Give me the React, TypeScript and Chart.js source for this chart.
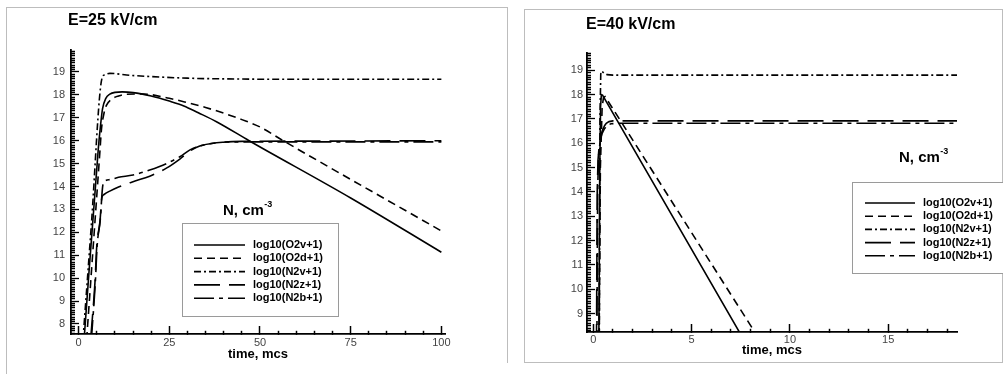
import React, { useEffect, useRef } from 'react';
import { Chart, registerables } from 'chart.js';

Chart.register(...registerables);

// ---------- styles ----------
const FONT = '"Liberation Sans", Arial, Helvetica, sans-serif';
const DASHES = [[], [8, 5], [7, 3, 2, 3], [26, 9], [20, 5, 4, 5]];

// ---------- data ----------
const SERIES_LABELS = ['log10(O2v+1)', 'log10(O2d+1)', 'log10(N2v+1)', 'log10(N2z+1)', 'log10(N2b+1)'];
const X_LABEL = 'time, mcs';
const N_LABEL = 'N, cm';
const N_SUP = '-3';

// Left panel: E = 25 kV/cm
const L_TITLE = 'E=25 kV/cm';
const L_X_TICKS = [0, 25, 50, 75, 100];
const L_Y_TICKS = [8, 9, 10, 11, 12, 13, 14, 15, 16, 17, 18, 19];
const L_O2V_T = [1.5, 5.4, 6.0, 6.6, 7.5, 8.6, 10, 12, 15, 20, 25, 29, 33, 38, 47, 75, 100];
const L_O2V_N = [7.3, 15.6, 16.6, 17.4, 17.85, 18.03, 18.11, 18.13, 18.1, 17.95, 17.73, 17.52, 17.22, 16.83, 16.0, 13.5, 11.13];
const L_O2D_T = [2.2, 5.9, 6.3, 7.0, 7.7, 9.5, 11, 13.2, 17.8, 25, 30, 35, 40, 45, 50, 56.4, 100];
const L_O2D_N = [7.3, 15.6, 16.5, 17.2, 17.55, 17.85, 17.95, 18.03, 18.04, 17.85, 17.66, 17.45, 17.2, 16.92, 16.6, 16.0, 12.06];
const L_N2V_T = [1.2, 3.5, 6.4, 7.2, 8.6, 10, 13.2, 20, 30, 40, 60, 100];
const L_N2V_N = [7.3, 12.3, 18.7, 18.88, 18.94, 18.93, 18.87, 18.8, 18.73, 18.7, 18.68, 18.68];
const L_N2Z_T = [3.3, 4.5, 5.0, 5.9, 6.4, 7.0, 8.6, 11, 15, 19.6, 24.2, 27.9, 30.7, 33.4, 38, 45, 60, 100];
const L_N2Z_N = [7.3, 9.8, 11.4, 12.5, 13.5, 13.65, 13.8, 13.98, 14.21, 14.45, 14.8, 15.2, 15.55, 15.77, 15.91, 15.97, 15.98, 16.0];
const L_N2B_T = [3.5, 4.6, 5.1, 6.0, 6.5, 6.8, 8.6, 11, 15, 19.6, 24.2, 27.9, 30.7, 33.4, 38, 45, 60, 100];
const L_N2B_N = [7.3, 9.8, 11.4, 12.6, 13.8, 14.15, 14.3, 14.4, 14.5, 14.72, 15.0, 15.3, 15.6, 15.77, 15.91, 15.95, 15.95, 15.95];

// Right panel: E = 40 kV/cm
const R_TITLE = 'E=40 kV/cm';
const R_X_TICKS = [0, 5, 10, 15];
const R_Y_TICKS = [9, 10, 11, 12, 13, 14, 15, 16, 17, 18, 19];
const R_O2V_T = [0.28, 0.33, 0.37, 0.41, 0.47, 7.6];
const R_O2V_N = [7.5, 15.0, 17.5, 18.0, 17.98, 8.0];
const R_O2D_T = [0.3, 0.36, 0.45, 0.52, 0.6, 8.4];
const R_O2D_N = [7.5, 15.0, 17.5, 17.88, 17.92, 8.0];
const R_N2V_T = [0.3, 0.34, 0.38, 0.42, 0.55, 0.7, 1.0, 18.5];
const R_N2V_N = [7.5, 17.0, 18.85, 18.97, 18.88, 18.82, 18.8, 18.8];
const R_N2Z_T = [0.16, 0.2, 0.24, 0.32, 0.4, 0.49, 0.58, 0.66, 0.8, 1.0, 18.5];
const R_N2Z_N = [7.5, 14.0, 15.3, 16.1, 16.38, 16.58, 16.73, 16.82, 16.89, 16.92, 16.92];
const R_N2B_T = [0.18, 0.22, 0.27, 0.36, 0.45, 0.55, 0.65, 0.75, 0.9, 1.2, 18.5];
const R_N2B_N = [7.5, 14.0, 15.5, 16.15, 16.4, 16.57, 16.68, 16.75, 16.8, 16.82, 16.82];

const zip = (t: number[], n: number[]) => t.map((v, i) => ({ x: v, y: n[i] }));
const near = (v: number, list: number[]) => list.some((t) => Math.abs(t - v) < 1e-6);

function tickValues(min: number, max: number, perUnit: number) {
  const out: { value: number }[] = [];
  const a = Math.ceil(min * perUnit - 1e-9);
  const b = Math.floor(max * perUnit + 1e-9);
  for (let k = a; k <= b; k++) out.push({ value: k / perUnit });
  return out;
}

function makeDecor(s: any) {
  const o = s.decor;
  return {
    id: 'decor',
    afterDraw(chart: any) {
      const ctx = chart.ctx;
      ctx.save();
      ctx.fillStyle = '#000';
      ctx.textBaseline = 'middle';
      ctx.textAlign = 'left';
      ctx.font = `bold 16px ${FONT}`;
      ctx.fillText(o.title, o.titleX, o.titleY);

      ctx.font = `bold 15px ${FONT}`;
      ctx.fillText(N_LABEL, o.nX, o.nY);
      const w = ctx.measureText(N_LABEL).width;
      ctx.font = `bold 9px ${FONT}`;
      ctx.fillText(N_SUP, o.nX + w + 0.5, o.nY - 6);

      const lb = o.legend;
      ctx.fillStyle = '#fff';
      ctx.fillRect(lb.x, lb.y, lb.w, lb.h);
      ctx.strokeStyle = '#9a9a9a';
      ctx.lineWidth = 1;
      ctx.setLineDash([]);
      ctx.strokeRect(lb.x + 0.5, lb.y + 0.5, lb.w, lb.h);
      ctx.font = `bold 11px ${FONT}`;
      ctx.fillStyle = '#000';
      chart.data.datasets.forEach((ds: any, i: number) => {
        const ry = lb.row0 + i * lb.rowGap;
        ctx.strokeStyle = '#000';
        ctx.lineWidth = ds.borderWidth;
        ctx.setLineDash(ds.borderDash || []);
        ctx.beginPath();
        ctx.moveTo(lb.sx0, ry);
        ctx.lineTo(lb.sx1, ry);
        ctx.stroke();
        ctx.setLineDash([]);
        ctx.fillText(ds.label, lb.tx, ry);
      });
      ctx.restore();
    },
  };
}

function Panel({ spec }: { spec: any }) {
  const ref = useRef<HTMLCanvasElement>(null);
  useEffect(() => {
    const s = spec;
    const chart = new Chart(ref.current as HTMLCanvasElement, {
      type: 'line',
      data: {
        datasets: s.series.map(([t, n]: number[][], i: number) => ({
          label: SERIES_LABELS[i],
          data: zip(t, n),
          borderColor: '#000',
          backgroundColor: '#000',
          borderWidth: 1.6,
          borderDash: DASHES[i],
          pointRadius: 0,
          fill: false,
          tension: 0,
          cubicInterpolationMode: s.smooth ? 'monotone' : 'default',
        })),
      },
      options: {
        responsive: false,
        animation: false,
        devicePixelRatio: 1,
        layout: { padding: { left: 0, right: s.padRight, top: s.padTop, bottom: 0 } },
        plugins: {
          legend: { display: false },
          tooltip: { enabled: false },
          title: { display: false },
        },
        scales: {
          x: {
            type: 'linear',
            min: s.xMin,
            max: s.xMax,
            grid: {
              display: true,
              drawOnChartArea: false,
              drawTicks: true,
              tickLength: -8,
              tickColor: '#000',
              tickWidth: 1.5,
              tickBorderDash: (c: any) => (c.tick && near(c.tick.value, s.xTicks) ? [] : [4, 100]),
            },
            border: { display: true, color: '#000', width: 1.8 },
            afterBuildTicks: (sc: any) => { sc.ticks = tickValues(s.xMin, s.xMax, s.xPerUnit); },
            afterFit: (sc: any) => { sc.height = s.xHeight; },
            ticks: {
              font: { family: FONT, size: 11 },
              color: '#444',
              padding: s.xTickPad,
              maxRotation: 0,
              autoSkip: false,
              callback: (v: number) => (near(v, s.xTicks) ? String(Math.round(v)) : ''),
            },
            title: { display: true, text: X_LABEL, color: '#000', font: { family: FONT, size: 13, weight: 'bold' }, padding: { top: 0, bottom: s.xTitlePad } },
          },
          y: {
            type: 'linear',
            min: s.yMin,
            max: s.yMax,
            grid: {
              display: true,
              drawOnChartArea: false,
              drawTicks: true,
              tickLength: -8,
              tickColor: '#000',
              tickWidth: 1.3,
              tickBorderDash: (c: any) => (c.tick && near(c.tick.value, s.yTicks) ? [] : [0, 4, 4, 100]),
            },
            border: { display: true, color: '#000', width: 1.8 },
            afterBuildTicks: (sc: any) => { sc.ticks = tickValues(s.yMin, s.yMax, s.yPerUnit); },
            afterFit: (sc: any) => { sc.width = s.yWidth; },
            ticks: {
              font: { family: FONT, size: 11 },
              color: '#444',
              padding: s.yTickPad,
              autoSkip: false,
              callback: (v: number) => (near(v, s.yTicks) ? String(Math.round(v)) : ''),
            },
          },
        },
      } as any,
      plugins: [makeDecor(s)],
    });
    return () => chart.destroy();
  }, []);
  return (
    <canvas
      ref={ref}
      width={spec.width}
      height={374}
      style={{ position: 'absolute', left: spec.left, top: 0, width: spec.width, height: 374 }}
    />
  );
}

const LEFT = {
  left: 0,
  width: 512,
  smooth: true,
  series: [[L_O2V_T, L_O2V_N], [L_O2D_T, L_O2D_N], [L_N2V_T, L_N2V_N], [L_N2Z_T, L_N2Z_N], [L_N2B_T, L_N2B_N]],
  xMin: -2.1, xMax: 101, yMin: 7.56, yMax: 19.96,
  xTicks: L_X_TICKS, yTicks: L_Y_TICKS,
  xPerUnit: 0.2, yPerUnit: 10,
  padRight: 67, padTop: 50,
  yWidth: 71, xHeight: 40,
  xTickPad: 10, yTickPad: 14, xTitlePad: 12,
  decor: {
    title: L_TITLE, titleX: 68, titleY: 21,
    nX: 223, nY: 211,
    legend: { x: 182, y: 223, w: 156, h: 93, row0: 245, rowGap: 13.3, sx0: 194, sx1: 245, tx: 253 },
  },
};

const RIGHT = {
  left: 512,
  width: 491,
  smooth: false,
  series: [[R_O2V_T, R_O2V_N], [R_O2D_T, R_O2D_N], [R_N2V_T, R_N2V_N], [R_N2Z_T, R_N2Z_N], [R_N2B_T, R_N2B_N]],
  xMin: -0.32, xMax: 18.5, yMin: 8.24, yMax: 19.71,
  xTicks: R_X_TICKS, yTicks: R_Y_TICKS,
  xPerUnit: 1, yPerUnit: 10,
  padRight: 46, padTop: 53,
  yWidth: 75, xHeight: 42,
  xTickPad: 9, yTickPad: 12, xTitlePad: 16,
  decor: {
    title: R_TITLE, titleX: 74, titleY: 25,
    nX: 387, nY: 158,
    legend: { x: 340, y: 182, w: 160, h: 91, row0: 203, rowGap: 13.2, sx0: 353, sx1: 403, tx: 411 },
  },
};

export default function App() {
  return (
    <div style={{ position: 'fixed', left: 0, top: 0, width: 1003, height: 374, background: '#fff', overflow: 'hidden' }}>
      <div style={{ position: 'absolute', left: 6, top: 7, width: 500, height: 355, borderTop: '1px solid #bdbdbd', borderLeft: '1px solid #bdbdbd', borderRight: '1px solid #bdbdbd' }} />
      <div style={{ position: 'absolute', left: 6, top: 362, width: 1, height: 12, background: '#bdbdbd' }} />
      <div style={{ position: 'absolute', left: 524, top: 9, width: 477, height: 352, border: '1px solid #bdbdbd' }} />
      <Panel spec={LEFT} />
      <Panel spec={RIGHT} />
    </div>
  );
}
